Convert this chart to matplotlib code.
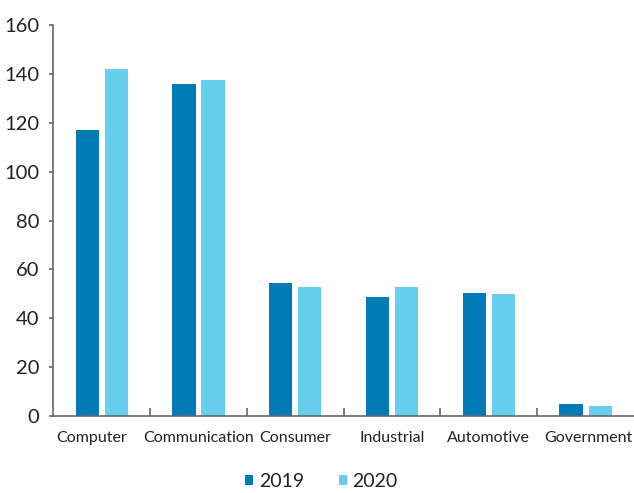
import matplotlib.pyplot as plt
import matplotlib.transforms as mtransforms
import numpy as np

categories = ["Computer", "Communication", "Consumer", "Industrial", "Automotive", "Government"]
v2019 = [117, 136, 54.5, 48.8, 50.2, 5.0]
v2020 = [142, 137.5, 52.8, 52.8, 50.0, 4.3]
yticks = [0, 20, 40, 60, 80, 100, 120, 140, 160]

plt.rcParams['font.family'] = ['Lato', 'DejaVu Sans']

c19 = "#007bb5"
c20 = "#66ceee"
axc = "#666666"
txt = "#222222"

fig = plt.figure(figsize=(6.34, 4.93), dpi=100)
ax = fig.add_axes([0.084, 0.156, 0.916, 0.793])

x = np.arange(len(categories))
w = 0.24
ax.bar(x - 0.15, v2019, w, color=c19, label="2019")
ax.bar(x + 0.15, v2020, w, color=c20, label="2020")

ax.set_xlim(-0.5, len(categories) - 0.5)
ax.set_ylim(0, 160)
ax.set_yticks(yticks)
ax.tick_params(axis='y', labelsize=14.5, colors=axc, labelcolor=txt, length=3, width=1.2, pad=7)

# category labels without ticks, boundary ticks pointing up
ax.set_xticks(x)
ax.set_xticklabels(categories, fontsize=11.5, color=txt)
ax.tick_params(axis='x', length=0, pad=11)
ax.set_xticks(np.arange(0.5, len(categories) - 1, 1), minor=True)
ax.tick_params(axis='x', which='minor', direction='in', length=6, width=1.2, colors=axc)

# small nudges seen in the original
labels = ax.get_xticklabels()
labels[0].set_transform(labels[0].get_transform() + mtransforms.ScaledTranslation(-0.1, 0, fig.dpi_scale_trans))
labels[-1].set_transform(labels[-1].get_transform() + mtransforms.ScaledTranslation(0.03, 0, fig.dpi_scale_trans))

for s in ["top", "right"]:
    ax.spines[s].set_visible(False)
for s in ["left", "bottom"]:
    ax.spines[s].set_color(axc)
    ax.spines[s].set_linewidth(1.2)

leg = fig.legend(loc="center", bbox_to_anchor=(0.507, 0.024), ncol=2, frameon=False,
                 fontsize=14, handlelength=0.4, handleheight=0.4, handletextpad=0.3,
                 columnspacing=1.8, borderpad=0.1)
for t in leg.get_texts():
    t.set_color(txt)

fig.savefig("out.png", dpi=100)
